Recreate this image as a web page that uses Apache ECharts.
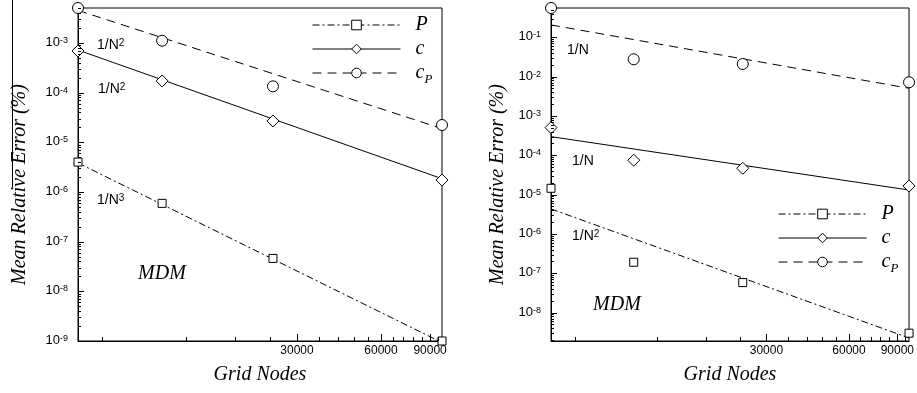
<!DOCTYPE html>
<html>
<head>
<meta charset="utf-8">
<script src="https://cdn.jsdelivr.net/npm/echarts@6/dist/echarts.min.js"></script>
<style>
  html, body { margin: 0; padding: 0; background: #fff; }
  #chart { width: 917px; height: 393px; }
</style>
</head>
<body>
<div id="chart"></div>
<script>
// grid nodes of the four meshes (x of every marker)
const gridNodes = [4920, 9850, 24600, 99300];
// x of the two ends of each order-of-accuracy line
const fitNodes = [4920, 99300];

// left panel, mean relative error (%)
const leftP  = [4.0e-6, 5.9e-7, 4.6e-8, 1.0e-9];
const leftC  = [6.9e-4, 1.72e-4, 2.69e-5, 1.74e-6];
const leftCp = [5.06e-3, 1.11e-3, 1.34e-4, 2.23e-5];
const leftPFit  = [3.84e-6, 0.93e-9];
const leftCFit  = [7.2e-4, 1.85e-6];
const leftCpFit = [4.53e-3, 1.89e-5];

// right panel, mean relative error (%)
const rightP  = [1.45e-5, 1.91e-7, 5.8e-8, 3.0e-9];
const rightC  = [5.05e-4, 7.5e-5, 4.68e-5, 1.66e-5];
const rightCp = [0.556, 2.76e-2, 2.1e-2, 7.2e-3];
const rightPFit  = [4.33e-6, 2.27e-9];
const rightCFit  = [2.98e-4, 1.31e-5];
const rightCpFit = [0.206, 5.06e-3];

// axes
const xRange = [4920, 99300];
const leftYRange = [1e-9, 5.06e-3];
const rightYRange = [1.9e-9, 0.556];
const xTickLabels = [30000, 60000, 90000];
const xMinorTicks = [6000, 12000, 18000, 24000, 36000, 42000, 48000,
                     54000, 66000, 72000, 78000, 84000, 96000];
const leftDecades = [-9, -8, -7, -6, -5, -4, -3];
const rightDecades = [-8, -7, -6, -5, -4, -3, -2, -1];

const SANS = "'Liberation Sans', Arial, Helvetica, sans-serif";
const SERIF = "'Liberation Serif', 'Times New Roman', Times, serif";
const dashDot = [7, 3, 2, 3];
const dashed = [9, 6];

const lg = v => Math.log10(v);
const pts = (xs, ys) => xs.map((x, i) => [lg(x), lg(ys[i])]);

function minorDecadeTicks(lo, hi) {
  const out = [];
  for (let e = Math.floor(lo); e < hi; e++) {
    for (let k = 2; k <= 9; k++) {
      const t = e + Math.log10(k);
      if (t > lo && t < hi) out.push(t);
    }
  }
  return out;
}

function xAxisFor(gridIndex) {
  return {
    type: 'value', gridIndex, min: lg(xRange[0]), max: lg(xRange[1]), position: 'bottom',
    name: 'Grid Nodes', nameLocation: 'middle', nameGap: 24,
    nameTextStyle: { fontFamily: SERIF, fontStyle: 'italic', fontSize: 20, color: '#000' },
    axisLine: { show: true, onZero: false, lineStyle: { color: '#000', width: 1 } },
    axisTick: { show: false },
    axisLabel: { show: true, customValues: xTickLabels.map(lg), margin: 4,
                 fontFamily: SANS, fontSize: 12, color: '#000',
                 formatter: v => String(Math.round(Math.pow(10, v))) },
    splitLine: { show: false }
  };
}

function yAxisFor(gridIndex, range, decades, nameGap) {
  return {
    type: 'value', gridIndex, min: lg(range[0]), max: lg(range[1]), position: 'left',
    name: 'Mean Relative Error (%)', nameLocation: 'middle', nameGap,
    nameTextStyle: { fontFamily: SERIF, fontStyle: 'italic', fontSize: 20, color: '#000',
                     padding: [0, 20, 0, 0] },
    axisLine: { show: true, onZero: false, lineStyle: { color: '#000', width: 1 } },
    axisTick: { show: false },
    axisLabel: {
      show: true, customValues: decades, margin: 10, padding: [0, 0, 1, 0],
      formatter: v => '{b|10}{s|' + Math.round(v) + '}',
      rich: {
        b: { fontFamily: SANS, fontSize: 13, lineHeight: 13, color: '#000', verticalAlign: 'bottom' },
        s: { fontFamily: SANS, fontSize: 9, lineHeight: 9, color: '#000', verticalAlign: 'top',
             padding: [0, 0, 8, 0] }
      }
    },
    splitLine: { show: false }
  };
}

function markerSeries(name, symbol, size, axisIndex, values) {
  return {
    name, type: 'line', xAxisIndex: axisIndex, yAxisIndex: axisIndex,
    data: pts(gridNodes, values),
    symbol, symbolSize: size, showSymbol: true, clip: false, silent: true,
    lineStyle: { opacity: 0 },
    itemStyle: { color: '#fff', borderColor: '#000', borderWidth: 1 },
    emphasis: { disabled: true },
    z: 5
  };
}

function fitSeries(axisIndex, values, dash) {
  return {
    type: 'line', xAxisIndex: axisIndex, yAxisIndex: axisIndex,
    data: pts(fitNodes, values),
    symbol: 'none', silent: true,
    lineStyle: { color: '#000', width: 1, type: dash },
    emphasis: { disabled: true },
    z: 3
  };
}

function legendFor(left, top) {
  return {
    orient: 'vertical', left, top, padding: 0,
    itemWidth: 88, itemHeight: 12, itemGap: 1, selectedMode: false,
    itemStyle: { color: '#fff', borderColor: '#000', borderWidth: 1 },
    data: [
      { name: 'P', lineStyle: { opacity: 1, color: '#000', width: 1, type: dashDot } },
      { name: 'c', lineStyle: { opacity: 1, color: '#000', width: 1, type: 'solid' } },
      { name: 'cP', lineStyle: { opacity: 1, color: '#000', width: 1, type: dashed } }
    ],
    formatter: name => name === 'cP' ? '{i|c}{s|P}' : '{i|' + name + '}{s| }',
    textStyle: {
      padding: [0, 0, 0, 10],
      rich: {
        i: { fontFamily: SERIF, fontStyle: 'italic', fontSize: 20, lineHeight: 20,
             color: '#000', verticalAlign: 'top' },
        s: { fontFamily: SERIF, fontStyle: 'italic', fontSize: 13, lineHeight: 13,
             padding: [10, 0, 0, 0], color: '#000', verticalAlign: 'top' }
      }
    }
  };
}

function note(x, y, base, sup) {
  return {
    type: 'text', x, y, silent: true,
    style: {
      text: sup ? '{b|' + base + '}{s|' + sup + '}' : '{b|' + base + '}',
      verticalAlign: 'middle', fill: '#000',
      rich: {
        b: { fontFamily: SANS, fontSize: 14, lineHeight: 14, verticalAlign: 'bottom' },
        s: { fontFamily: SANS, fontSize: 10, lineHeight: 10, verticalAlign: 'top',
             padding: [0, 0, 8, 0] }
      }
    }
  };
}

function mdm(x, y) {
  return {
    type: 'text', x, y, silent: true,
    style: { text: 'MDM', fontFamily: SERIF, fontStyle: 'italic', fontSize: 20,
             align: 'center', verticalAlign: 'middle', fill: '#000' }
  };
}

const chart = echarts.init(document.getElementById('chart'));
chart.setOption({
  animation: false,
  backgroundColor: '#fff',
  grid: [
    { left: 78, top: 8, width: 364, height: 333, show: true, borderColor: '#000', borderWidth: 1 },
    { left: 551, top: 8, width: 364, height: 333, show: true, borderColor: '#000', borderWidth: 1 }
  ],
  xAxis: [xAxisFor(0), xAxisFor(1)],
  yAxis: [yAxisFor(0, leftYRange, leftDecades, 48), yAxisFor(1, rightYRange, rightDecades, 43)],
  legend: [legendFor(312, 15), legendFor(778, 204)],
  series: [
    fitSeries(0, leftPFit, dashDot),
    fitSeries(0, leftCFit, 'solid'),
    fitSeries(0, leftCpFit, dashed),
    markerSeries('P', 'rect', 8, 0, leftP),
    markerSeries('c', 'diamond', 12, 0, leftC),
    markerSeries('cP', 'circle', 11, 0, leftCp),
    fitSeries(1, rightPFit, dashDot),
    fitSeries(1, rightCFit, 'solid'),
    fitSeries(1, rightCpFit, dashed),
    markerSeries('P', 'rect', 8, 1, rightP),
    markerSeries('c', 'diamond', 12, 1, rightC),
    markerSeries('cP', 'circle', 11, 1, rightCp)
  ]
});

// inward tick marks, positioned with the grids' own scales
function tickGraphics(gridIndex, yRange, decades) {
  const xMin = lg(xRange[0]), yMin = lg(yRange[0]), yMax = lg(yRange[1]);
  const out = [];
  const stroke = { stroke: '#000', lineWidth: 1 };
  const vTick = (v, len) => {
    const p = chart.convertToPixel({ gridIndex }, [v, yMin]);
    const x = Math.round(p[0]) + 0.5;
    out.push({ type: 'line', silent: true, z: 10,
               shape: { x1: x, y1: p[1], x2: x, y2: p[1] - len }, style: stroke });
  };
  const hTick = (v, len) => {
    const p = chart.convertToPixel({ gridIndex }, [xMin, v]);
    const y = Math.round(p[1]) + 0.5;
    out.push({ type: 'line', silent: true, z: 10,
               shape: { x1: p[0], y1: y, x2: p[0] + len, y2: y }, style: stroke });
  };
  xTickLabels.forEach(v => vTick(lg(v), 7));
  xMinorTicks.forEach(v => vTick(lg(v), 4));
  decades.forEach(v => hTick(v, 6));
  minorDecadeTicks(yMin, yMax).forEach(v => hTick(v, 3));
  return out;
}

chart.setOption({
  graphic: [
    { type: 'line', silent: true, shape: { x1: 12.5, y1: 0, x2: 12.5, y2: 187 },
      style: { stroke: '#000', lineWidth: 1 } },
    note(97, 45, '1/N', '2'),
    note(98, 89, '1/N', '2'),
    note(97, 200, '1/N', '3'),
    mdm(162, 274),
    note(567, 50, '1/N'),
    note(572, 161, '1/N'),
    note(572, 236, '1/N', '2'),
    mdm(617, 305),
    ...tickGraphics(0, leftYRange, leftDecades),
    ...tickGraphics(1, rightYRange, rightDecades)
  ]
});
</script>
</body>
</html>
